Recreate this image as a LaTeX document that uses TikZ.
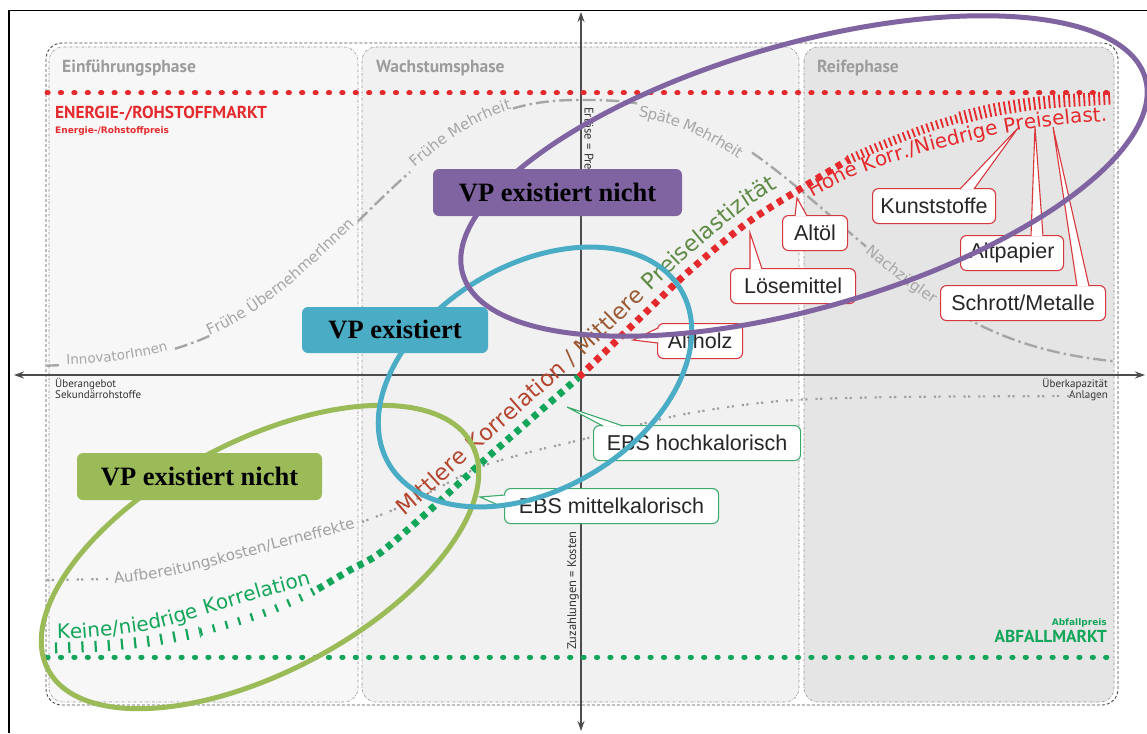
\documentclass[tikz,border=0pt]{standalone}
\usepackage{fontspec}
\setmainfont{Liberation Sans}
\newfontfamily\labelfont{PT Sans}
\newfontfamily\curvefont{DejaVu Sans}
\newfontfamily\vpfont{Liberation Serif}
\usetikzlibrary{arrows.meta,decorations.text,calc}

\definecolor{vpPurple}{HTML}{8064A2}
\definecolor{vpBlue}{HTML}{4BACC6}
\definecolor{vpGreen}{HTML}{9BBB59}
\definecolor{mktRed}{HTML}{E52A2E}
\definecolor{mktGreen}{HTML}{13A65A}
\definecolor{adoptGray}{HTML}{A6A6A6}
\definecolor{costGray}{HTML}{A0A0A0}
\definecolor{phaseGray}{HTML}{9C9C9C}
\definecolor{callRed}{HTML}{D8373C}
\definecolor{callGreen}{HTML}{3BAA6B}
\definecolor{midRed}{HTML}{B4462F}
\definecolor{midMix}{HTML}{9A5A33}
\definecolor{midGreen}{HTML}{5F8A45}
\definecolor{panelA}{HTML}{F7F7F7}
\definecolor{panelB}{HTML}{F1F1F1}
\definecolor{panelC}{HTML}{E5E5E5}

\newcommand{\pxsize}[1]{\fontsize{#1}{#1}\selectfont}
\newcommand{\midfont}{\curvefont\pxsize{22.5}}
% white-filled pointer of a callout box: colour, base point, tip, base point
\newcommand{\calltail}[4]{%
  \fill[white] #2 -- #3 -- #4 -- cycle;
  \draw[#1, line width=1.1pt, line join=miter] #2 -- #3 -- #4;}

\begin{document}
\begin{tikzpicture}[x=1pt,y=-1pt,
  declare function={bell(\t)=367-267*exp(0-pow(abs(\t-583)/ifthenelse(\t<583,275,310),2.5));},
  mktdots/.style={line width=5pt, line cap=round, dash pattern=on 1.2pt off 12.2pt},
  adopt/.style={adoptGray, line width=2.4pt, dash pattern=on 13pt off 4pt on 2.5pt off 4pt},
  cost/.style={costGray, line width=2.2pt, dash pattern=on 2.2pt off 2.4pt on 2.2pt off 8pt},
  axis/.style={draw=black!70, line width=1.4pt},
  panel/.style={draw=black!45, line width=0.6pt, dash pattern=on 2.5pt off 1.5pt on 0.6pt off 1.5pt, rounded corners=14pt},
  phaselabel/.style={anchor=base west, inner sep=0pt, text=phaseGray, font=\labelfont\bfseries\pxsize{17.5}},
  smalllabel/.style={inner sep=0pt, text=black!80, font=\labelfont\pxsize{11}},
  sidelabel/.style={inner sep=0pt, text=black!80, font=\labelfont\pxsize{12.5}},
  gticks/.style={mktGreen, dash pattern=on 2.2pt off 11pt},
  squares/.style={line width=7pt, dash pattern=on 6pt off 5.5pt},
  rticks/.style={mktRed, dash pattern=on 1.8pt off 3.2pt},
  callbox/.style={draw, fill=white, rounded corners=6pt, line width=1.1pt, anchor=north west,
    minimum height=35pt, inner sep=0pt, text=black!85, font=\pxsize{21.5}},
  redcall/.style={callbox, draw=callRed},
  greencall/.style={callbox, draw=callGreen},
  vpbox/.style={rounded corners=6pt, inner sep=0pt, minimum height=47pt, font=\vpfont\bfseries\pxsize{26.5}, text=black},
  ring/.style={line width=5pt},
  onbell/.style 2 args={decorate, decoration={text along path, text align=center, raise=#1, text color=adoptGray, text={#2}}},
]
\useasboundingbox (0,0) rectangle (1147,733);
\fill[white] (0,0) rectangle (1147,733);

% page frame
\draw[line width=1.8pt] (9,733) -- (9,10.5) -- (1147,10.5);

% phase panels and outer frame
\draw[panel, fill=panelA] (49,47) rectangle (358,702);
\draw[panel, fill=panelB] (362,47) rectangle (799,702);
\draw[panel, fill=panelC] (804,47) rectangle (1114,702);
\draw[black!70, line width=0.9pt, dash pattern=on 3pt off 2pt, rounded corners=16pt] (46,43) rectangle (1118,705);

\node[phaselabel] (phaseIntro) at (62,73) {Einführungsphase};
\node[phaselabel] (phaseGrowth) at (376,73) {Wachstumsphase};
\node[phaselabel] (phaseMature) at (817,73) {Reifephase};

% axes
\coordinate (axL) at (14,375);
\coordinate (axR) at (1145,375);
\coordinate (axT) at (581,12);
\coordinate (axB) at (581,731);
\draw[axis, {Stealth[length=10pt,width=7pt]}-{Stealth[length=10pt,width=7pt]}] (axL) -- (axR);
\draw[axis, {Stealth[length=10pt,width=7pt]}-{Stealth[length=10pt,width=7pt]}] (axB) -- (axT);

\node[smalllabel, anchor=base west] (oversupply) at (55,387) {Überangebot};
\node[smalllabel, anchor=base west] (secondary) at (55,398) {Sekundärrohstoffe};
\node[smalllabel, anchor=base east] (overcap) at (1108,387) {Überkapazität};
\node[smalllabel, anchor=base east] (plants) at (1108,398) {Anlagen};
\node[sidelabel, rotate=-90, anchor=west] (revenue) at (589,107) {Erlöse = Preis};
\node[sidelabel, rotate=90, anchor=west] (payments) at (573,650) {Zuzahlungen = Kosten};

% market price lines
\draw[mktdots, mktRed] (47,93) -- (1117,93);
\draw[mktdots, mktGreen] (47,657) -- (1117,657);
\node[anchor=base west, inner sep=0pt, text=mktRed, font=\labelfont\bfseries\pxsize{17.3}] (energyMkt) at (55,118) {ENERGIE-/ROHSTOFFMARKT};
\node[anchor=base west, inner sep=0pt, text=mktRed, font=\curvefont\bfseries\pxsize{9}] (energyPrice) at (55,133) {Energie-/Rohstoffpreis};
\node[anchor=base east, inner sep=0pt, text=mktGreen, font=\curvefont\bfseries\pxsize{9}] (wastePrice) at (1107,625) {Abfallpreis};
\node[anchor=base east, inner sep=0pt, text=mktGreen, font=\labelfont\bfseries\pxsize{17.3}] (wasteMkt) at (1107,642) {ABFALLMARKT};

% adoption curve with its labels set into the line
\draw[adopt] plot[domain=47:59, samples=4] (\x,{bell(\x)});
\draw[adopt] plot[domain=175:212, samples=10] (\x,{bell(\x)});
\draw[adopt] plot[domain=358:410, samples=12] (\x,{bell(\x)});
\draw[adopt] plot[domain=513:637, samples=30] (\x,{bell(\x)});
\draw[adopt] plot[domain=752:866, samples=30] (\x,{bell(\x)});
\draw[adopt] plot[domain=940:1113, samples=40] (\x,{bell(\x)});
\path[onbell={0pt}{|\curvefont\pxsize{13.5}|InnovatorInnen}] plot[domain=47:187, samples=40] (\x,{bell(\x)});
\path[onbell={0pt}{|\curvefont\pxsize{15}|Frühe ÜbernehmerInnen}] plot[domain=200:362, samples=50] (\x,{bell(\x)});
\path[onbell={0pt}{|\curvefont\pxsize{15}|Frühe Mehrheit}] plot[domain=408:520, samples=40] (\x,{bell(\x)});
\path[onbell={-13pt}{|\curvefont\pxsize{15}|Späte Mehrheit}] plot[domain=633:752, samples=40] (\x,{bell(\x)});
\path[onbell={-5pt}{|\curvefont\pxsize{15}|Nachzügler}] plot[domain=855:950, samples=40] (\x,{bell(\x)});

% processing cost curve
\draw[cost] (47,580) -- (108,579);
\draw[cost] plot[smooth] coordinates {(362,522) (400,507) (440,487) (480,467) (530,452) (580,440) (680,415) (780,401) (900,397) (1110,396)};
\path[decorate, decoration={text along path, text align=center, raise=-4pt, text color=costGray,
  text={|\curvefont\pxsize{15}|Aufbereitungskosten/Lerneffekte}}]
  (100,581) -- (135,577) -- (170,572) -- (200,565) -- (230,557) -- (260,549) -- (290,541) -- (330,531) -- (368,520);

% price correlation curve
\draw[gticks, line width=11pt] plot[smooth] coordinates {(55,648) (100,646) (150,641) (200,632)};
\draw[gticks, line width=8pt] plot[smooth] coordinates {(200,632) (233,623) (267,612) (300,598) (318,589)};
\draw[squares, mktGreen] plot[smooth] coordinates {(318,589) (350,570) (380,553) (430,510) (480,464) (530,420) (579,377)};
\draw[squares, mktRed] plot[smooth] coordinates {(579,377) (640,318) (687,273) (747,223) (805,186) (848,160)};
\draw[rticks, line width=9pt] plot[smooth] coordinates {(848,160) (880,146) (927,128) (960,118)};
\draw[rticks, line width=13pt] plot[smooth] coordinates {(960,118) (993,110) (1030,104) (1060,101) (1113,98)};

\path[decorate, decoration={text along path, text align=center, text color=mktGreen,
  text={|\curvefont\pxsize{20}|Keine/niedrige Korrelation}}]
  (50,639) -- (80,638.5) -- (110,636) -- (135,632.5) -- (160,628) -- (185,621) -- (210,613) -- (235,605.5) -- (260,598) -- (290,590) -- (318,582);
\path[decorate, decoration={text along path, text align=center, text color=midRed,
  text={|\midfont|Mittlere Korrelation |\midfont\color{midMix}|/ Mittlere |\midfont\color{midGreen}|Preiselastizität}}]
  (380,537) -- (430,494) -- (480,448) -- (530,404) -- (579,361) -- (640,302) -- (687,257) -- (747,207) -- (805,170);
\path[decorate, decoration={text along path, text align=center, text color=mktRed,
  text={|\curvefont\pxsize{20}|Hohe Korr./Niedrige Preiselast.}}]
  (808,200) -- (829,188.5) -- (850,178) -- (875,168.5) -- (900,160) -- (925,152.5) -- (950,146) -- (975,139.5) -- (1000,134) -- (1025,129.5) -- (1050,126) -- (1080,123) -- (1112,121);

% material callouts
\node[redcall, minimum width=123pt] (kunst) at (872,188) {Kunststoffe};
\node[redcall, minimum width=103pt] (papier) at (960,235) {Altpapier};
\node[redcall, minimum width=165pt] (schrott) at (940,285) {Schrott/Metalle};
\node[redcall, minimum width=65pt] (altoel) at (782,215) {Altöl};
\node[redcall, minimum width=125pt] (loese) at (730,268) {Lösemittel};
\node[redcall, minimum width=85pt] (altholz) at (657,323) {Altholz};
\node[greencall, minimum width=207pt] (ebsHoch) at (593,425) {EBS hochkalorisch};
\node[greencall, minimum width=214pt] (ebsMittel) at (504,488) {EBS mittelkalorisch};

\coordinate (kunstTip) at (1018,128);
\coordinate (papierTip) at (1035,127);
\coordinate (schrottTip) at (1053,127);
\coordinate (altoelTip) at (797,198);
\coordinate (loeseTip) at (750,233);
\coordinate (altholzTip) at (633,340);
\coordinate (ebsHochTip) at (567,407);
\coordinate (ebsMittelTip) at (480,497);

\calltail{callRed}{($(kunst.north west)+(88,1)$)}{(kunstTip)}{($(kunst.north west)+(102,1)$)}
\calltail{callRed}{($(papier.north west)+(71,1)$)}{(papierTip)}{($(papier.north west)+(83,1)$)}
\calltail{callRed}{($(schrott.north west)+(137,1)$)}{(schrottTip)}{($(schrott.north west)+(149,1)$)}
\calltail{callRed}{($(altoel.north west)+(13,1)$)}{(altoelTip)}{($(altoel.north west)+(25,1)$)}
\calltail{callRed}{($(loese.north west)+(20,1)$)}{(loeseTip)}{($(loese.north west)+(32,1)$)}
\calltail{callRed}{($(altholz.north west)+(1,5)$)}{(altholzTip)}{($(altholz.north west)+(1,20)$)}
\calltail{callGreen}{($(ebsHoch.north west)+(10,1)$)}{(ebsHochTip)}{($(ebsHoch.north west)+(30,1)$)}
\calltail{callGreen}{($(ebsMittel.north west)+(1,7)$)}{(ebsMittelTip)}{($(ebsMittel.north west)+(1,20)$)}

% market segment rings
\draw[ring, vpGreen, rotate around={28:(260,557)}] (260,557) ellipse [x radius=240pt, y radius=115pt];
\draw[ring, vpBlue, rotate around={31:(535,377)}] (535,377) ellipse [x radius=170pt, y radius=112pt];
\draw[ring, vpPurple, rotate around={16:(804,176)}] (804,176) ellipse [x radius=355pt, y radius=132pt];

% segment labels
\node[vpbox, fill=vpPurple, minimum width=249pt] (vpTop) at (557.5,192.5) {VP existiert nicht};
\node[vpbox, fill=vpBlue, minimum width=186pt, minimum height=46pt] (vpMid) at (395,330) {VP existiert};
\node[vpbox, fill=vpGreen, minimum width=245pt] (vpLow) at (199.5,476.5) {VP existiert nicht};
\end{tikzpicture}
\end{document}
